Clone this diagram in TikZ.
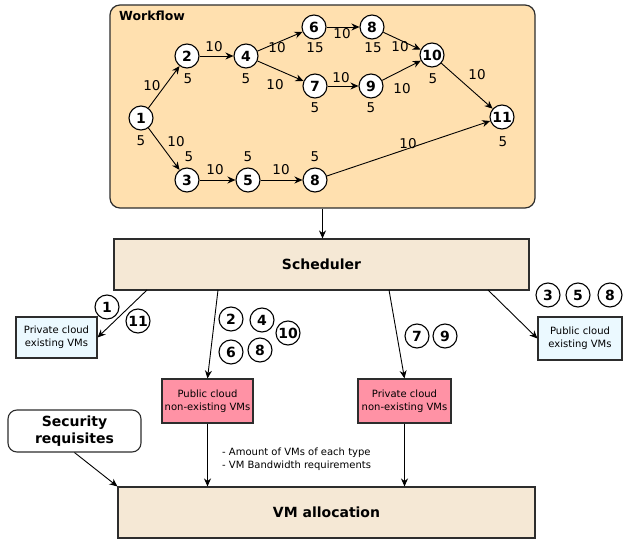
\documentclass[tikz,border=0pt]{standalone}
\usepackage{fontspec}
\setmainfont{DejaVu Sans}
\usetikzlibrary{arrows.meta}
\definecolor{wfill}{RGB}{255,224,175}
\definecolor{sfill}{RGB}{245,232,213}
\definecolor{bfill}{RGB}{235,249,255}
\definecolor{pfill}{RGB}{255,146,165}
\definecolor{edgec}{RGB}{45,45,45}
\begin{document}
\begin{tikzpicture}[x=1pt,y=-1pt,
 task/.style={circle,draw=black,line width=1.1pt,fill=white,minimum size=24pt,inner sep=0pt,font=\fontsize{14}{14}\selectfont\bfseries},
 wt/.style={font=\fontsize{13.5}{13.5}\selectfont,inner sep=0pt},
 arr/.style={-{Stealth[length=8pt,width=7pt]},line width=0.9pt},
 bigbox/.style={draw=edgec,line width=1.1pt,fill=sfill,font=\fontsize{14}{16}\selectfont\bfseries,inner sep=0pt},
 smallbox/.style={draw=edgec,line width=1.1pt,font=\fontsize{10}{13}\selectfont,align=center,inner sep=0pt},
]
\useasboundingbox (0,0) rectangle (623,540);

% workflow container
\node[draw=edgec,line width=1.2pt,fill=wfill,rounded corners=10pt,minimum width=425pt,minimum height=203pt,inner sep=0pt] (wf) at (322.5,106.5) {};
\node[anchor=west,inner sep=0pt,font=\fontsize{12.5}{12.5}\selectfont\bfseries] (wftitle) at (119,16) {Workflow};

% tasks
\node[task] (t1) at (141,118) {1};
\node[task] (t2) at (187,56) {2};
\node[task] (t3) at (187,180) {3};
\node[task] (t4) at (246,56) {4};
\node[task] (t5) at (248,180) {5};
\node[task] (t6) at (314,27) {6};
\node[task] (t7) at (315,86) {7};
\node[task] (t8a) at (372,27) {8};
\node[task] (t9) at (371,86) {9};
\node[task] (t10) at (432,55) {10};
\node[task] (t11) at (502,117) {11};
\node[task] (t8b) at (315,180) {8};

\draw[arr] (t1) -- (t2);
\draw[arr] (t1) -- (t3);
\draw[arr] (t2) -- (t4);
\draw[arr] (t4) -- (t6);
\draw[arr] (t4) -- (t7);
\draw[arr] (t6) -- (t8a);
\draw[arr] (t7) -- (t9);
\draw[arr] (t8a) -- (t10);
\draw[arr] (t9) -- (t10);
\draw[arr] (t10) -- (t11);
\draw[arr] (t3) -- (t5);
\draw[arr] (t5) -- (t8b);
\draw[arr] (t8b) -- (t11);

% weights
\node[wt] (w1) at (141,141) {5};
\node[wt] (e12) at (152,86) {10};
\node[wt] (w2) at (188,79) {5};
\node[wt] (e13) at (176,142) {10};
\node[wt] (w3) at (189,157) {5};
\node[wt] (e24) at (214,47) {10};
\node[wt] (w4) at (246,79) {5};
\node[wt] (e46) at (277,48) {10};
\node[wt] (e47) at (275,85) {10};
\node[wt] (w6) at (315,48) {15};
\node[wt] (w7) at (315,108) {5};
\node[wt] (e68) at (342,34) {10};
\node[wt] (e79) at (341,78) {10};
\node[wt] (w8a) at (373,48) {15};
\node[wt] (w9) at (371,108) {5};
\node[wt] (e810) at (400,47) {10};
\node[wt] (e910) at (402,89) {10};
\node[wt] (w10) at (433,79) {5};
\node[wt] (e1011) at (477,75) {10};
\node[wt] (w11) at (503,142) {5};
\node[wt] (e35) at (215,170) {10};
\node[wt] (w5) at (248,157) {5};
\node[wt] (e58) at (281,170) {10};
\node[wt] (w8b) at (315,157) {5};
\node[wt] (e811) at (408,144) {10};

% scheduler
\node[bigbox,minimum width=415pt,minimum height=51pt] (sched) at (321.5,264.5) {Scheduler};
\draw[arr] (wf.south) -- (wf.south |- sched.north);

% destination boxes
\node[smallbox,fill=bfill,minimum width=81pt,minimum height=41pt] (privex) at (56.5,337.5) {Private cloud\\existing VMs};
\node[smallbox,fill=pfill,minimum width=91pt,minimum height=44pt] (pubnon) at (207.5,401) {Public cloud\\non-existing VMs};
\node[smallbox,fill=pfill,minimum width=93pt,minimum height=44pt] (privnon) at (404.5,401) {Private cloud\\non-existing VMs};
\node[smallbox,fill=bfill,minimum width=84pt,minimum height=43pt] (pubex) at (580,338.5) {Public cloud\\existing VMs};

\coordinate (s1) at (147,290);
\coordinate (s2) at (218,290);
\coordinate (s3) at (389,290);
\coordinate (s4) at (488,290);
\draw[arr] (s1) -- (privex.east);
\draw[arr] (s2) -- (pubnon.north);
\draw[arr] (s3) -- (privnon.north);
\draw[arr] (s4) -- (pubex.west);

% task circles per destination
\node[task] (c1) at (107,307) {1};
\node[task] (c11) at (138,321) {11};
\node[task] (c2) at (231,319) {2};
\node[task] (c4) at (262,320) {4};
\node[task] (c10) at (288,333) {10};
\node[task] (c6) at (231,352) {6};
\node[task] (c8) at (260,350) {8};
\node[task] (c7) at (417,336) {7};
\node[task] (c9) at (445,336) {9};
\node[task] (c3) at (548,295) {3};
\node[task] (c5) at (578,295) {5};
\node[task] (c8r) at (610,295) {8};

% security and allocation
\node[draw=edgec,line width=1.1pt,fill=white,rounded corners=9pt,minimum width=133pt,minimum height=42pt,inner sep=0pt,align=center,font=\fontsize{14}{16.5}\selectfont\bfseries] (sec) at (74.5,431) {Security\\requisites};
\node[bigbox,minimum width=417pt,minimum height=51pt] (vm) at (326.5,512.5) {VM allocation};

\draw[arr] (sec.south) -- (vm.north west);
\draw[arr] (pubnon.south) -- (pubnon.south |- vm.north);
\draw[arr] (privnon.south) -- (privnon.south |- vm.north);

\node[anchor=west,inner sep=0pt,align=left,font=\fontsize{10}{13}\selectfont] (req) at (222,459.5) {- Amount of VMs of each type\\- VM Bandwidth requirements};
\end{tikzpicture}
\end{document}
